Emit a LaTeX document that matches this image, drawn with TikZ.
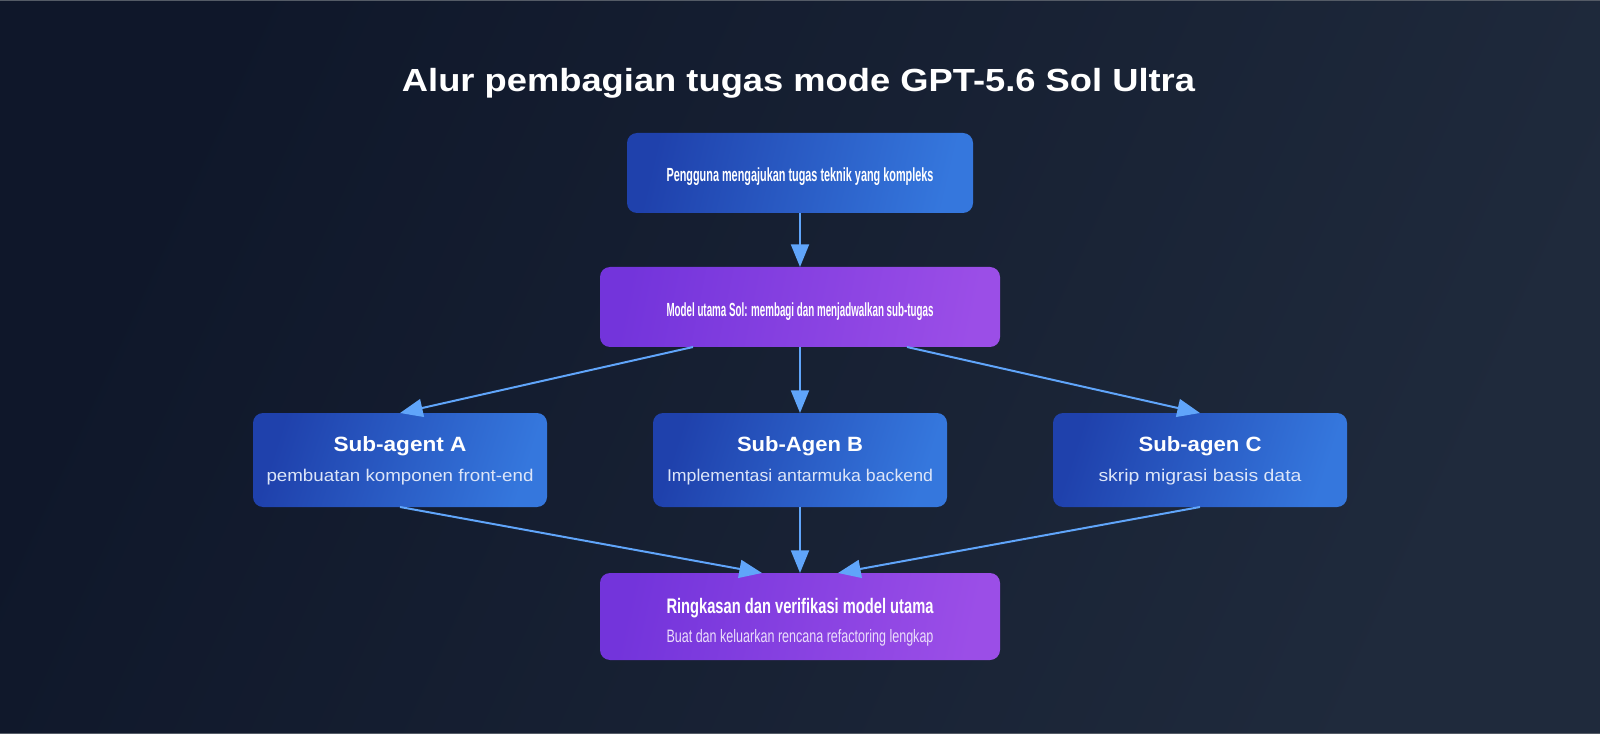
\documentclass[tikz,border=0pt]{standalone}
\usepackage{fontspec}
\setmainfont{Liberation Sans}
\usetikzlibrary{arrows.meta,calc}
\definecolor{bgA}{HTML}{0F172A}
\definecolor{bgB}{HTML}{1F2A3C}
\definecolor{blA}{HTML}{1F41AC}
\definecolor{blB}{HTML}{3577DD}
\definecolor{puA}{HTML}{7334DB}
\definecolor{puB}{HTML}{9B4EE7}
\definecolor{arr}{HTML}{60A5FA}
\definecolor{subtxt}{HTML}{DCE5F8}
\definecolor{subtxtp}{HTML}{EBDDFB}
\definecolor{edge}{HTML}{545B66}
\newcommand\fw[2]{\resizebox{#1}{\height}{#2}}
\begin{document}
\begin{tikzpicture}[x=0.75pt,y=-0.75pt,
  box/.style={rounded corners=7.5pt, inner sep=0pt, outer sep=0pt},
  bluebox/.style={box, top color=blA, bottom color=blB, shading angle=#1},
  purplebox/.style={box, top color=puA, bottom color=puB, shading angle=#1},
  txt/.style={text=white, inner sep=0pt, anchor=base},
  boldt/.style={txt, font=\bfseries\fontsize{14.25}{17}\selectfont},
  subhead/.style={txt, font=\bfseries\fontsize{15.5}{18}\selectfont},
  subline/.style={txt, text=subtxt, font=\fontsize{12.75}{15}\selectfont},
  conn/.style={draw=arr, line width=1.5pt, -{Triangle[length=17pt,width=13.5pt]}},
]
\useasboundingbox (0,0) rectangle (1600,734);
\shade[top color=bgA, bottom color=bgB, shading angle=65.4] (0,0) rectangle (1600,734);
\draw[edge, line width=0.75pt] (0,0.5) -- (1600,0.5);
\draw[edge, line width=0.75pt] (0,733.5) -- (1600,733.5);

\node[txt, font=\bfseries\fontsize{24}{28}\selectfont] (title) at (798.5,92)
  {\fw{594.75pt}{Alur pembagian tugas mode GPT-5.6 Sol Ultra}};

\node[bluebox=77, minimum width=259.5pt, minimum height=60pt] (user) at (800,173) {};
\node[boldt] (usert) at (800,182) {\fw{200.25pt}{Pengguna mengajukan tugas teknik yang kompleks}};

\node[purplebox=78.7, minimum width=300pt, minimum height=60pt] (model) at (800,307) {};
\node[boldt] (modelt) at (800,316) {\fw{200.25pt}{Model utama Sol: membagi dan menjadwalkan sub-tugas}};

\node[bluebox=72.3, minimum width=220.5pt, minimum height=70.5pt] (subA) at (400,460) {};
\node[subhead] (subAt) at (400,451) {\fw{99.75pt}{Sub-agent A}};
\node[subline] (subAd) at (400,481) {\fw{200.25pt}{pembuatan komponen front-end}};

\node[bluebox=72.3, minimum width=220.5pt, minimum height=70.5pt] (subB) at (800,460) {};
\node[subhead] (subBt) at (800,451) {\fw{94.5pt}{Sub-Agen B}};
\node[subline] (subBd) at (800,481) {\fw{199.5pt}{Implementasi antarmuka backend}};

\node[bluebox=72.3, minimum width=220.5pt, minimum height=70.5pt] (subC) at (1200,460) {};
\node[subhead] (subCt) at (1200,451) {\fw{92.25pt}{Sub-agen C}};
\node[subline] (subCd) at (1200,481) {\fw{152.25pt}{skrip migrasi basis data}};

\node[purplebox=77.7, minimum width=300pt, minimum height=65.25pt] (final) at (800,616.5) {};
\node[subhead, font=\bfseries\fontsize{15.75}{18}\selectfont] (finalt) at (800,613) {\fw{200.25pt}{Ringkasan dan verifikasi model utama}};
\node[subline, text=subtxtp, font=\fontsize{13.5}{16}\selectfont] (finald) at (800,642) {\fw{200.25pt}{Buat dan keluarkan rencana refactoring lengkap}};

\draw[conn] (user.south) -- (model.north);
\draw[conn] ($(model.south)+(-107,0)$) -- (subA.north);
\draw[conn] (model.south) -- (subB.north);
\draw[conn] ($(model.south)+(107,0)$) -- (subC.north);
\draw[conn] (subA.south) -- ($(final.north)+(-38,0)$);
\draw[conn] (subB.south) -- (final.north);
\draw[conn] (subC.south) -- ($(final.north)+(38,0)$);
\end{tikzpicture}
\end{document}
